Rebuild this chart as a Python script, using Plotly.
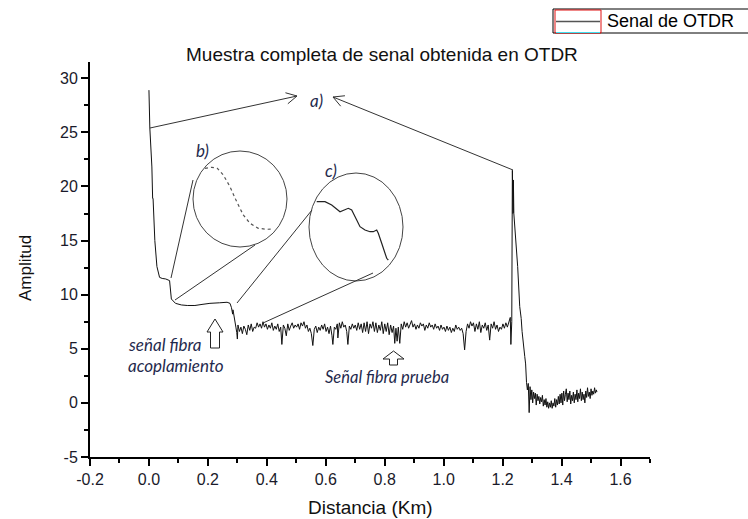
import math
import plotly.graph_objects as go

# ---------------- data ----------------
dist_launch = [0.000, 0.003, 0.010, 0.0105, 0.011, 0.0115, 0.012, 0.0125, 0.014, 0.020, 0.027,
               0.031, 0.036, 0.045, 0.057, 0.070, 0.076, 0.090, 0.110, 0.130, 0.156, 0.180,
               0.207, 0.240, 0.265, 0.275, 0.280, 0.284, 0.285, 0.287, 0.290, 0.295, 0.298, 0.300]
amp_launch = [28.9, 25.4, 21.8, 19.2, 21.6, 19.0, 21.3, 18.9, 18.9, 15.0, 12.6,
              12.0, 11.6, 11.5, 11.45, 11.3, 9.6, 9.2, 9.05, 9.0, 9.0, 9.1,
              9.2, 9.25, 9.3, 9.2, 8.8, 8.2, 8.6, 8.3, 7.6, 7.0, 6.5, 5.9]

dist_test = [0.302, 0.307, 0.312, 0.317, 0.322, 0.327, 0.332, 0.337, 0.342, 0.347, 0.352, 0.357,
             0.362, 0.367, 0.372, 0.377, 0.382, 0.387, 0.392, 0.397, 0.402, 0.407, 0.412, 0.417,
             0.422, 0.427, 0.432, 0.437, 0.442, 0.447, 0.451, 0.456, 0.461, 0.466, 0.471, 0.476,
             0.481, 0.486, 0.491, 0.496, 0.501, 0.506, 0.511, 0.516, 0.521, 0.526, 0.531, 0.536,
             0.541, 0.546, 0.551, 0.556, 0.561, 0.566, 0.571, 0.576, 0.581, 0.586, 0.591, 0.596,
             0.601, 0.606, 0.611, 0.616, 0.621, 0.624, 0.629, 0.634, 0.639, 0.641, 0.646, 0.651,
             0.656, 0.661, 0.666, 0.671, 0.675, 0.680, 0.685, 0.690, 0.695, 0.700, 0.705, 0.710,
             0.715, 0.720, 0.725, 0.730, 0.735, 0.740, 0.745, 0.750, 0.755, 0.760, 0.765, 0.770,
             0.775, 0.780, 0.785, 0.790, 0.795, 0.800, 0.805, 0.810, 0.815, 0.820, 0.825, 0.830,
             0.834, 0.838, 0.842, 0.846, 0.851, 0.856, 0.861, 0.866, 0.871, 0.876, 0.881, 0.886,
             0.891, 0.896, 0.901, 0.906, 0.911, 0.916, 0.921, 0.926, 0.931, 0.936, 0.941, 0.946,
             0.951, 0.956, 0.961, 0.966, 0.971, 0.976, 0.981, 0.986, 0.991, 0.996, 1.001, 1.006,
             1.011, 1.016, 1.021, 1.026, 1.031, 1.036, 1.041, 1.046, 1.051, 1.056, 1.061, 1.066,
             1.071, 1.076, 1.081, 1.086, 1.091, 1.096, 1.101, 1.106, 1.111, 1.116, 1.121, 1.126,
             1.131, 1.136, 1.141, 1.146, 1.151, 1.156, 1.161, 1.166, 1.171, 1.176, 1.181, 1.186,
             1.191, 1.196, 1.201, 1.206, 1.211, 1.216, 1.221, 1.226, 1.228, 1.231]
amp_test = [7.2, 6.6, 7.0, 6.4, 7.1, 6.8, 6.3, 7.2, 6.7, 7.3, 6.6, 7.0,
            6.9, 7.4, 7.0, 7.3, 6.9, 7.5, 7.0, 7.3, 6.8, 7.2, 6.9, 7.4,
            6.7, 7.1, 6.8, 7.3, 6.6, 7.0, 5.4, 7.2, 6.9, 6.2, 7.3, 6.7,
            7.1, 7.4, 6.9, 7.2, 7.0, 7.3, 6.8, 7.4, 7.1, 7.5, 6.9, 7.2,
            6.6, 6.9, 6.4, 5.3, 6.8, 7.1, 6.5, 7.0, 6.7, 7.2, 6.8, 7.3,
            6.6, 7.0, 6.4, 7.1, 6.2, 5.4, 7.0, 6.8, 7.3, 6.0, 7.4, 6.9,
            7.5, 7.0, 7.2, 6.6, 5.4, 7.1, 6.8, 7.3, 6.9, 7.2, 6.7, 7.4,
            6.8, 7.3, 6.5, 7.4, 6.6, 7.5, 6.4, 7.3, 6.9, 7.5, 6.6, 7.4,
            6.5, 7.2, 6.7, 7.5, 6.4, 7.3, 6.6, 7.4, 6.3, 7.2, 6.5, 7.1,
            5.5, 6.9, 5.7, 7.0, 5.5, 7.3, 6.8, 7.5, 7.0, 7.4, 6.9, 7.3,
            7.6, 7.0, 7.3, 6.8, 7.2, 6.9, 7.4, 7.1, 7.3, 6.7, 7.2, 6.9,
            7.4, 7.0, 7.2, 6.8, 7.3, 6.9, 7.1, 6.7, 7.2, 6.8, 7.0, 6.6,
            7.1, 6.7, 7.0, 6.5, 6.9, 6.6, 7.2, 6.8, 7.0, 6.7, 6.9, 6.4,
            4.9, 6.6, 7.3, 6.9, 7.5, 7.1, 7.4, 6.6, 7.3, 6.8, 7.5, 6.5,
            7.2, 6.9, 7.4, 6.7, 7.2, 5.8, 7.3, 6.9, 7.5, 6.8, 7.2, 6.6,
            7.0, 6.8, 7.3, 6.9, 7.4, 7.0, 7.6, 7.9, 5.4, 7.5]

dist_end = [1.233, 1.235, 1.2355, 1.236, 1.2365, 1.237, 1.238, 1.251, 1.258, 1.263, 1.2635,
            1.264, 1.2645, 1.266, 1.275, 1.278, 1.281, 1.284, 1.287, 1.290, 1.293, 1.296,
            1.299, 1.302, 1.305, 1.308, 1.311, 1.314, 1.317, 1.320, 1.323, 1.326, 1.329,
            1.332, 1.335, 1.338, 1.341, 1.344, 1.347, 1.350, 1.353, 1.356, 1.359, 1.362,
            1.365, 1.368, 1.371, 1.374, 1.377, 1.380, 1.383, 1.386, 1.389, 1.392, 1.395,
            1.398, 1.401, 1.404, 1.407, 1.410, 1.413, 1.416, 1.419, 1.422, 1.425, 1.428,
            1.431, 1.434, 1.437, 1.440, 1.443, 1.446, 1.449, 1.452, 1.455, 1.458, 1.461,
            1.464, 1.467, 1.470, 1.473, 1.476, 1.479, 1.482, 1.485, 1.488, 1.491, 1.494,
            1.497, 1.500, 1.503, 1.506, 1.509, 1.512, 1.515, 1.518, 1.520]
amp_end = [21.5, 17.5, 21.0, 17.6, 20.6, 17.5, 17.5, 12.6, 8.9, 7.8, 6.6,
           7.7, 6.7, 6.6, 4.3, 3.6, 1.9, 1.2, 1.8, -0.9, 1.5, 0.3,
           1.2, 0.0, 1.0, 0.4, 0.9, -0.2, 0.8, 0.2, 0.6, -0.1, 0.5,
           0.1, 0.7, -0.3, 0.3, -0.2, 0.4, -0.4, 0.1, -0.5, 0.0, -0.4,
           0.2, -0.5, 0.0, -0.3, 0.4, -0.4, 0.3, -0.2, 0.6, -0.1, 0.8,
           0.0, 0.9, -0.2, 1.1, 0.2, 0.8, 1.3, 0.1, 0.9, 0.3, 1.1,
           -0.1, 0.7, 0.2, 1.0, 0.0, 0.8, 0.3, 1.2, 0.1, 0.9, 0.4,
           1.3, 0.2, 1.0, 0.3, 0.8, 0.0, 1.1, 0.5, 1.4, 0.6, 1.0,
           0.4, 1.3, 0.7, 1.1, 0.8, 1.4, 0.9, 1.2, 1.0]

x_ticks = [-0.2, 0.0, 0.2, 0.4, 0.6, 0.8, 1.0, 1.2, 1.4, 1.6]
x_tick_labels = ["-0.2", "0.0", "0.2", "0.4", "0.6", "0.8", "1.0", "1.2", "1.4", "1.6"]
y_ticks = [-5, 0, 5, 10, 15, 20, 25, 30]
y_tick_labels = ["-5", "0", "5", "10", "15", "20", "25", "30"]

series_name = "Senal de OTDR"
chart_title = "Muestra completa de senal obtenida en OTDR"

# ---------------- layout geometry ----------------
W, H = 748, 519
ML, MR, MT, MB = 90, 98, 62, 62
XR = [-0.2, 1.7]
YR = [-5, 31.5]
PW, PH = W - ML - MR, H - MT - MB


def dx(p):  # pixel -> data x (decorations only)
    return XR[0] + (p - ML) / PW * (XR[1] - XR[0])


def dy(p):  # pixel -> data y (decorations only)
    return YR[0] + (H - MB - p) / PH * (YR[1] - YR[0])


def paper_x(p):
    return (p - ML) / PW


def paper_y(p):
    return (H - MB - p) / PH


dist = dist_launch + dist_test + dist_end
amp = amp_launch + amp_test + amp_end

fig = go.Figure()
fig.add_trace(go.Scatter(x=dist, y=amp, mode="lines", name=series_name,
                         line=dict(color="#111111", width=1), showlegend=False))

shapes = []
LC = "#333333"


def seg(x0, y0, x1, y1, color=LC, width=1):
    shapes.append(dict(type="line", xref="x", yref="y", x0=dx(x0), y0=dy(y0),
                       x1=dx(x1), y1=dy(y1), line=dict(color=color, width=width)))


def vhead(tx, ty, fx, fy, length=12, ang=28):
    vx, vy = fx - tx, fy - ty
    n = math.hypot(vx, vy)
    vx, vy = vx / n, vy / n
    for s in (1, -1):
        a = math.radians(ang * s)
        rx = vx * math.cos(a) - vy * math.sin(a)
        ry = vx * math.sin(a) + vy * math.cos(a)
        seg(tx, ty, tx + rx * length, ty + ry * length)


# a) arrows
seg(150, 128, 297, 96)
vhead(297, 96, 150, 128)
seg(513, 170, 333, 97)
vhead(333, 97, 513, 170)

# b) circle and connectors
shapes.append(dict(type="circle", xref="x", yref="y", x0=dx(193), x1=dx(287),
                   y0=dy(247), y1=dy(151), line=dict(color="#444444", width=1)))
seg(193, 180, 171, 278)
seg(255, 245, 175, 300)
# c) circle and connectors
shapes.append(dict(type="circle", xref="x", yref="y", x0=dx(309), x1=dx(403),
                   y0=dy(281), y1=dy(173), line=dict(color="#444444", width=1)))
seg(312, 210, 237, 303)
seg(373, 273, 263, 323)

# magnified insets (drawings inside the circles)
inset_b = [(205, 168.3), (211.7, 167.3), (217.3, 168.3), (223.3, 175), (230, 186.7),
           (236.7, 201.7), (243.3, 215), (250, 223.3), (258.3, 228.3), (266.7, 229.3), (273.3, 229)]
inset_c = [(316.7, 201.7), (325, 201.7), (331.7, 205), (340, 211.7), (348.3, 208.3),
           (351.7, 210), (356.7, 220), (360, 226.7), (365, 230), (370, 231.7), (373.3, 231.7),
           (376.7, 230), (378.3, 233.3), (381.7, 243.3), (386.7, 258.3), (388.3, 260)]


def path_of(pts):
    return "M " + " L ".join(f"{dx(a):.5f},{dy(b):.5f}" for a, b in pts)


shapes.append(dict(type="path", xref="x", yref="y", path=path_of(inset_b),
                   line=dict(color="#555555", width=1.2, dash="dot")))
shapes.append(dict(type="path", xref="x", yref="y", path=path_of(inset_c),
                   line=dict(color="#222222", width=1.2)))


def block_arrow(cx, top, shoulder, bottom, half_head, half_stem):
    pts = [(cx, top), (cx + half_head, shoulder), (cx + half_stem, shoulder),
           (cx + half_stem, bottom), (cx - half_stem, bottom), (cx - half_stem, shoulder),
           (cx - half_head, shoulder)]
    return dict(type="path", xref="x", yref="y", path=path_of(pts) + " Z",
                fillcolor="white", line=dict(color="#222222", width=1))


shapes.append(block_arrow(215, 319, 332, 348, 8, 4.5))
shapes.append(block_arrow(393.5, 351, 359, 365, 10.5, 4))

# manual legend box (top right, clipped by the page edge like the original)
shapes.append(dict(type="rect", xref="paper", yref="paper", x0=paper_x(553), x1=paper_x(760),
                   y0=paper_y(33), y1=paper_y(9), line=dict(color="black", width=1),
                   fillcolor="white", layer="above"))
shapes.append(dict(type="rect", xref="paper", yref="paper", x0=paper_x(555), x1=paper_x(601),
                   y0=paper_y(33), y1=paper_y(10), line=dict(color="#e01010", width=1),
                   layer="above"))
shapes.append(dict(type="line", xref="paper", yref="paper", x0=paper_x(556), x1=paper_x(600),
                   y0=paper_y(21.5), y1=paper_y(21.5), line=dict(color="#555555", width=1.5),
                   layer="above"))
shapes.append(dict(type="line", xref="paper", yref="paper", x0=paper_x(556), x1=paper_x(600),
                   y0=paper_y(32.5), y1=paper_y(32.5), line=dict(color="#40e0f0", width=1),
                   layer="above"))

NAVY = "#1f2a4d"
ITF = "Lato"
annotations = [
    dict(text=series_name, xref="paper", yref="paper", x=paper_x(605), y=paper_y(21.5),
         xanchor="left", yanchor="middle", showarrow=False,
         font=dict(family="Liberation Sans", size=18, color="black")),
    dict(text=chart_title, xref="paper", yref="paper", x=paper_x(382), y=paper_y(55),
         xanchor="center", yanchor="middle", showarrow=False,
         font=dict(family="Liberation Sans", size=19, color="#111111")),
    dict(text="Amplitud", xref="paper", yref="paper", x=paper_x(25), y=paper_y(268),
         xanchor="center", yanchor="middle", textangle=-90, showarrow=False,
         font=dict(family="Liberation Sans", size=17, color="#111111")),
    dict(text="Distancia (Km)", xref="paper", yref="paper", x=paper_x(370), y=paper_y(507),
         xanchor="center", yanchor="middle", showarrow=False,
         font=dict(family="Liberation Sans", size=19, color="#111111")),
    dict(text="<i>a)</i>", x=dx(316), y=dy(100), showarrow=False,
         font=dict(family=ITF, size=17, color=NAVY)),
    dict(text="<i>b)</i>", x=dx(202), y=dy(150), showarrow=False,
         font=dict(family=ITF, size=17, color=NAVY)),
    dict(text="<i>c)</i>", x=dx(331), y=dy(170), showarrow=False,
         font=dict(family=ITF, size=17, color=NAVY)),
    dict(text="<i>señal fibra</i>", x=dx(126), y=dy(344), xanchor="left", showarrow=False,
         font=dict(family=ITF, size=17, color=NAVY)),
    dict(text="<i>acoplamiento</i>", x=dx(126), y=dy(365), xanchor="left", showarrow=False,
         font=dict(family=ITF, size=17, color=NAVY)),
    dict(text="<i>Señal fibra prueba</i>", x=dx(387), y=dy(377), xanchor="center",
         showarrow=False, font=dict(family=ITF, size=16.5, color=NAVY)),
]

axis_common = dict(showline=True, linecolor="black", linewidth=2, ticks="outside",
                   ticklen=7, tickwidth=2, tickcolor="black", showgrid=False, zeroline=False,
                   tickfont=dict(family="Liberation Sans", size=16, color="#1a1a2a"),
                   mirror=False)

fig.update_layout(
    width=W, height=H,
    margin=dict(l=ML, r=MR, t=MT, b=MB),
    paper_bgcolor="white", plot_bgcolor="white",
    showlegend=False,
    xaxis=dict(range=XR, tickvals=x_ticks, ticktext=x_tick_labels,
               minor=dict(dtick=0.1, tick0=-0.2, ticks="outside", ticklen=4, tickwidth=2,
                          tickcolor="black"),
               **axis_common),
    yaxis=dict(range=YR, tickvals=y_ticks, ticktext=y_tick_labels,
               minor=dict(dtick=2.5, tick0=-5, ticks="outside", ticklen=4, tickwidth=2,
                          tickcolor="black"),
               **axis_common),
    shapes=shapes,
    annotations=annotations,
)

fig.write_html("out.html", config={"displayModeBar": False},
               post_script="document.body.style.margin='0';document.body.style.padding='0';")
